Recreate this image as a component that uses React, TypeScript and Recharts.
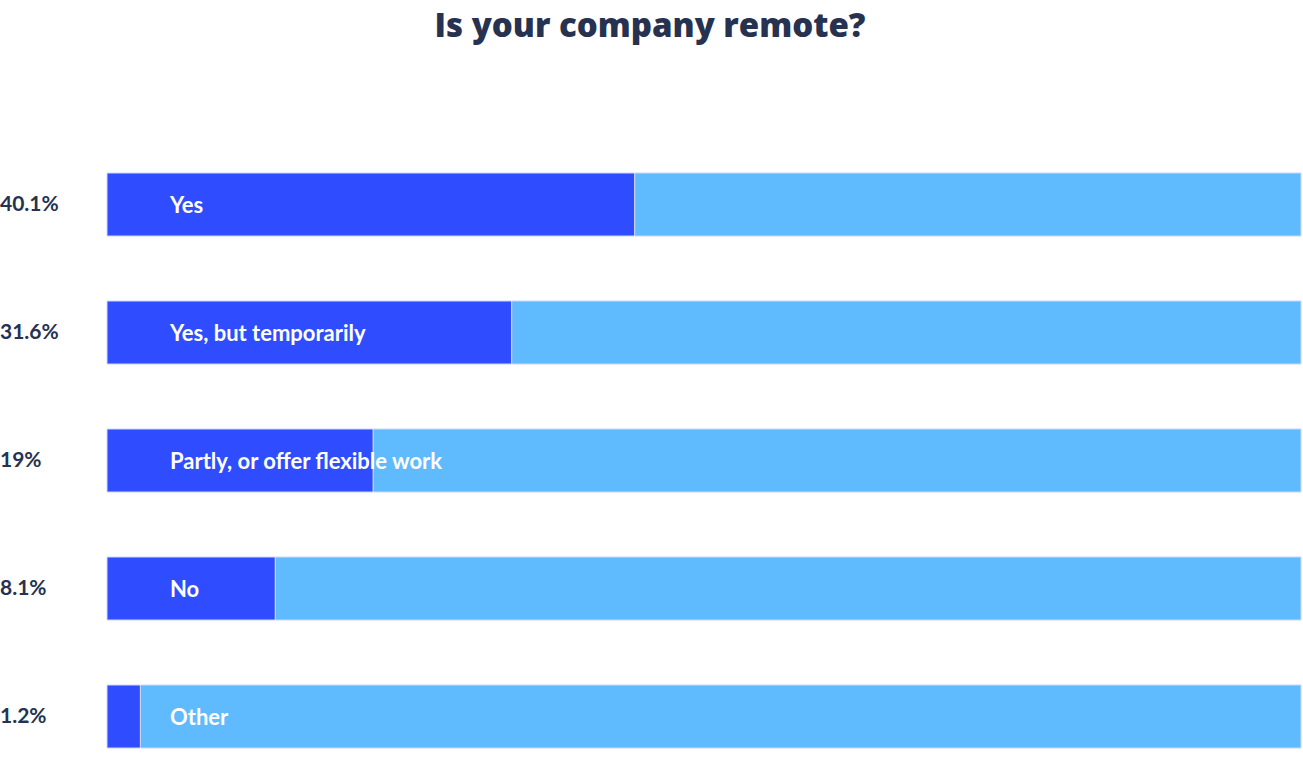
import React from 'react';
import { BarChart, Bar, XAxis, YAxis, LabelList } from 'recharts';

// answers, shown percentages, and bar lengths (share of the track)
const answers = ['Yes', 'Yes, but temporarily', 'Partly, or offer flexible work', 'No', 'Other'];
const shownPercent = ['40.1%', '31.6%', '19%', '8.1%', '1.2%'];
const barLength = [44.2, 33.9, 22.3, 14.1, 2.8];
const trackMax = 100;

const data = answers.map((answer, i) => ({
  answer,
  pct: shownPercent[i],
  value: barLength[i],
  rest: trackMax - barLength[i],
}));

const DARK = '#2f4dfe';
const LIGHT = '#5fbafe';
const BORDER = '#cdd6ff';
const NAVY = '#263250';

const PercentTick = (props: any) => {
  const { y, payload } = props;
  const row = data.find((d) => d.answer === payload.value);
  return (
    <text x={0} y={y} dy={7} fill={NAVY} fontSize={21} fontFamily="Lato" fontWeight={700}>
      {row ? row.pct : ''}
    </text>
  );
};

const AnswerLabel = (props: any) => {
  const { y, height, value } = props;
  return (
    <text x={170} y={y + height / 2} dy={8} fill="#ffffff" fontSize={22} fontFamily="Lato" fontWeight={700}>
      {value}
    </text>
  );
};

export default function App() {
  return (
    <div style={{ position: 'absolute', left: 0, top: 0, width: 1303, height: 768, overflow: 'hidden', background: '#fff' }}>
      <div
        style={{
          position: 'absolute',
          left: 0,
          top: 2,
          width: 1300,
          textAlign: 'center',
          fontFamily: "'Open Sans'",
          fontWeight: 800,
          fontSize: 33,
          color: NAVY,
        }}
      >
        Is your company remote?
      </div>
      <BarChart
        width={1303}
        height={780}
        data={data}
        layout="vertical"
        margin={{ top: 140, right: 2, bottom: 0, left: 0 }}
        barCategoryGap={0}
      >
        <XAxis type="number" domain={[0, trackMax]} hide />
        <YAxis
          type="category"
          dataKey="answer"
          width={107}
          axisLine={false}
          tickLine={false}
          tick={<PercentTick />}
        />
        <Bar dataKey="value" stackId="a" fill={DARK} stroke={BORDER} strokeWidth={1} barSize={63} isAnimationActive={false} />
        <Bar dataKey="rest" stackId="a" fill={LIGHT} stroke={BORDER} strokeWidth={1} barSize={63} isAnimationActive={false}>
          <LabelList dataKey="answer" content={<AnswerLabel />} />
        </Bar>
      </BarChart>
    </div>
  );
}
